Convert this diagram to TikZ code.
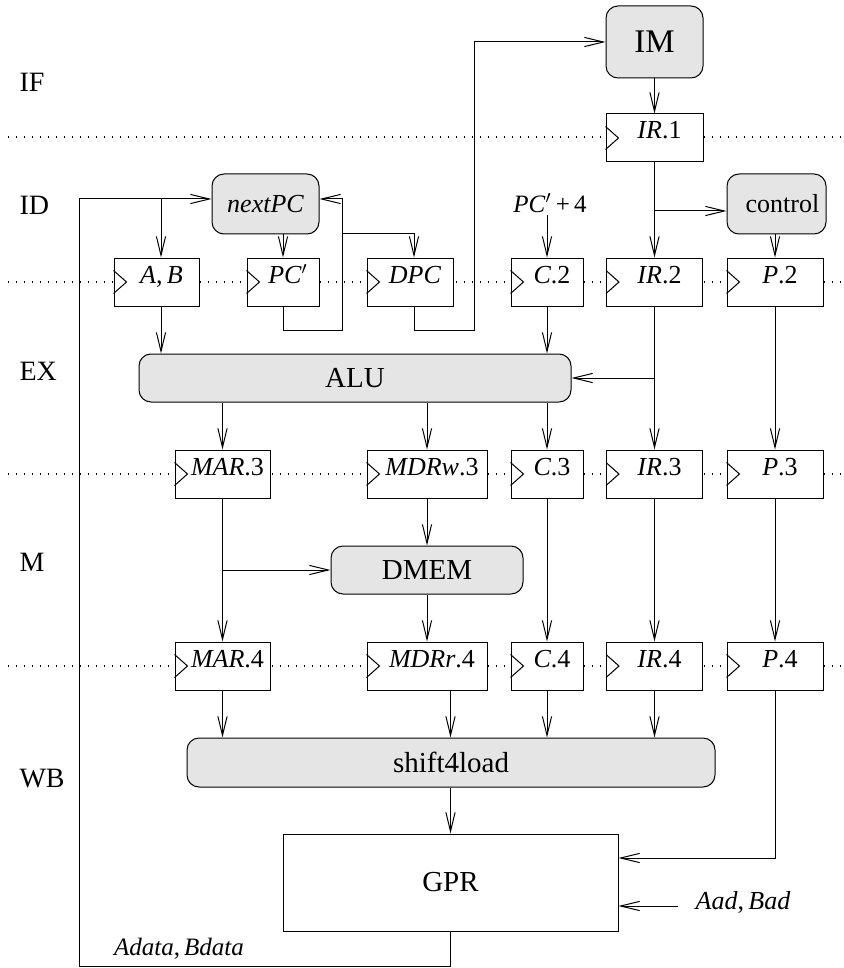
\documentclass[tikz,border=0pt]{standalone}
\usepackage{fontspec}
\setmainfont{LiberationSerif}[Extension=.ttf, UprightFont=*-Regular, ItalicFont=*-Italic, BoldFont=*-Bold, BoldItalicFont=*-BoldItalic]
\usetikzlibrary{arrows.meta}

\begin{document}
\begin{tikzpicture}[x=0.5pt,y=-0.5pt,
  line width=0.5pt,
  >={Straight Barb[length=9.5pt,width=4.6pt]},
  unit/.style={draw, fill=gray!20, rounded corners=6pt, inner sep=0pt,
               font=\fontsize{14.5}{16}\selectfont},
  reg/.style={draw, fill=white, inner sep=0pt, minimum height=24pt,
              text height=8pt, text depth=7pt,
              font=\fontsize{13}{15}\selectfont},
  stage/.style={anchor=west, inner sep=0pt, font=\fontsize{14}{16}\selectfont},
  lbl/.style={inner sep=1pt, font=\fontsize{12.5}{14}\selectfont},
  pipe/.style={line width=0.6pt, dash pattern=on 0.6pt off 3.4pt}
]
\useasboundingbox (0,0) rectangle (843,968);

% stage boundaries
\foreach \yy in {137,282,474,666}
  \draw[pipe] (8,\yy) -- (843,\yy);

% stage names
\node[stage] (sIF) at (19,82)  {IF};
\node[stage] (sID) at (19,205) {ID};
\node[stage] (sEX) at (19,371) {EX};
\node[stage] (sM)  at (19,562) {M};
\node[stage] (sWB) at (19,779) {WB};

% functional units
\node[unit, minimum width=48.5pt, minimum height=36pt,
      font=\fontsize{16.5}{18}\selectfont] (im) at (654.5,42) {IM};
\node[unit, minimum width=53.5pt, minimum height=30pt,
      font=\fontsize{13}{15}\itshape] (npc) at (265.5,204) {nextPC};
\node[unit, minimum width=49.5pt, minimum height=30pt,
      font=\fontsize{13}{15}\selectfont] (ctl) at (776.5,204) {\hskip6pt control};
\node[unit, minimum width=216pt, minimum height=24pt] (alu) at (355,378) {ALU};
\node[unit, minimum width=96pt, minimum height=24pt] (dmem) at (427,570) {DMEM};
\node[unit, minimum width=264pt, minimum height=24.5pt] (sl) at (451,762.5) {shift4load};
\node[draw, fill=white, minimum width=167.5pt, minimum height=48.5pt,
      font=\fontsize{14.5}{16}\selectfont] (gpr) at (450.5,882.5) {GPR};

% pipeline registers
\node[reg, minimum width=48.5pt] (ir1) at (654.5,138) {\hskip5pt\textit{IR}.1};

\node[reg, minimum width=42.5pt] (ab)  at (156.5,282) {\hskip5pt\textit{A},\,\textit{B}};
\node[reg, minimum width=36pt]   (pcp) at (283,282)   {\hskip5pt\textit{PC}$'$};
\node[reg, minimum width=43pt]   (dpc) at (410,282)   {\hskip5pt\textit{DPC}};
\node[reg, minimum width=36pt]   (c2)  at (547,282)   {\hskip5pt\textit{C}.2};
\node[reg, minimum width=48pt]   (ir2) at (654.5,282) {\hskip5pt\textit{IR}.2};
\node[reg, minimum width=48pt]   (p2)  at (775,282)   {\hskip5pt\textit{P}.2};

\node[reg, minimum width=47.5pt] (mar3)  at (222.5,474) {\hskip5pt\textit{MAR}.3};
\node[reg, minimum width=60pt]   (mdrw3) at (427,474)   {\hskip5pt\textit{MDRw}.3};
\node[reg, minimum width=36pt]   (c3)    at (547,474)   {\hskip5pt\textit{C}.3};
\node[reg, minimum width=48pt]   (ir3)   at (654.5,474) {\hskip5pt\textit{IR}.3};
\node[reg, minimum width=48pt]   (p3)    at (775,474)   {\hskip5pt\textit{P}.3};

\node[reg, minimum width=47.5pt] (mar4)  at (222.5,666) {\hskip5pt\textit{MAR}.4};
\node[reg, minimum width=60pt]   (mdrr4) at (427,666)   {\hskip5pt\textit{MDRr}.4};
\node[reg, minimum width=36pt]   (c4)    at (547,666)   {\hskip5pt\textit{C}.4};
\node[reg, minimum width=48pt]   (ir4)   at (654.5,666) {\hskip5pt\textit{IR}.4};
\node[reg, minimum width=48pt]   (p4)    at (775,666)   {\hskip5pt\textit{P}.4};

% clock inputs
\foreach \r in {ir1,ab,pcp,dpc,c2,ir2,p2,mar3,mdrw3,c3,ir3,p3,mar4,mdrr4,c4,ir4,p4}
  \draw ([yshift=5.75pt]\r.west) -- ([xshift=6.5pt]\r.west) -- ([yshift=-5.75pt]\r.west);

% free labels
\node[lbl] (pc4)  at (550,203) {\textit{PC}$'$\,+\,4};
\node[lbl, font=\fontsize{13}{15}\selectfont] (aad)  at (743,902) {\textit{Aad},\,\textit{Bad}};
\node[lbl, font=\fontsize{12.5}{14}\selectfont] (adat) at (179,949) {\textit{Adata},\,\textit{Bdata}};

% junctions and bends
\coordinate (loopB) at (79,966);
\coordinate (abj)   at (161,199);
\coordinate (pcl)   at (342,330);
\coordinate (dpcj)  at (342,234);
\coordinate (dpcx)  at (414,0);
\coordinate (dl)    at (474,330);
\coordinate (ctlj)  at (654.5,211);
\coordinate (aluj)  at (654.5,378);
\coordinate (dmj)   at (222.5,570);
\coordinate (mdx)   at (450.5,0);
\coordinate (aads)  at (678,906);

% ID stage
\draw[->] (gpr.south) |- (loopB) |- ([yshift=2.5pt]npc.west);
\draw[->] (abj) -- (abj |- ab.north);
\draw[->] (npc.south -| pcp) -- (pcp.north);
\draw[->] (pcp.south) |- (pcl) |- ([yshift=2.5pt]npc.east);
\draw[->] (dpcj) -| (dpcx |- dpc.north);
\draw[->] (dpcx |- dpc.south) |- (dl) |- (im.west);
\draw[->] (im.south) -- (ir1.north);
\draw[->] (ir1.south) -- (ir2.north);
\draw[->] (ctlj) -- (ctlj -| ctl.west);
\draw[->] (ctl.south -| p2) -- (p2.north);
\draw[->] (pc4.south -| c2) -- (c2.north);

% EX stage
\draw[->] (abj |- ab.south) -- (abj |- alu.north);
\draw[->] (c2.south) -- (c2.south |- alu.north);
\draw[->] (ir2.south) -- (ir3.north);
\draw[->] (aluj) -- (alu.east);
\draw[->] (p2.south) -- (p3.north);
\draw[->] (alu.south -| mar3) -- (mar3.north);
\draw[->] (alu.south -| mdrw3) -- (mdrw3.north);
\draw[->] (alu.south -| c3) -- (c3.north);

% M stage
\draw[->] (mar3.south) -- (mar4.north);
\draw[->] (dmj) -- (dmem.west);
\draw[->] (mdrw3.south) -- (mdrw3.south |- dmem.north);
\draw[->] (dmem.south) -- (mdrr4.north);
\draw[->] (c3.south) -- (c4.north);
\draw[->] (ir3.south) -- (ir4.north);
\draw[->] (p3.south) -- (p4.north);

% WB stage
\draw[->] (mar4.south) -- (mar4.south |- sl.north);
\draw[->] (mdx |- mdrr4.south) -- (mdx |- sl.north);
\draw[->] (c4.south) -- (c4.south |- sl.north);
\draw[->] (ir4.south) -- (ir4.south |- sl.north);
\draw[->] (sl.south -| gpr) -- (gpr.north);
\draw[->] (p4.south) |- ([yshift=12.25pt]gpr.east);
\draw[->] (aads) -- (aads -| gpr.east);

\end{tikzpicture}
\end{document}
